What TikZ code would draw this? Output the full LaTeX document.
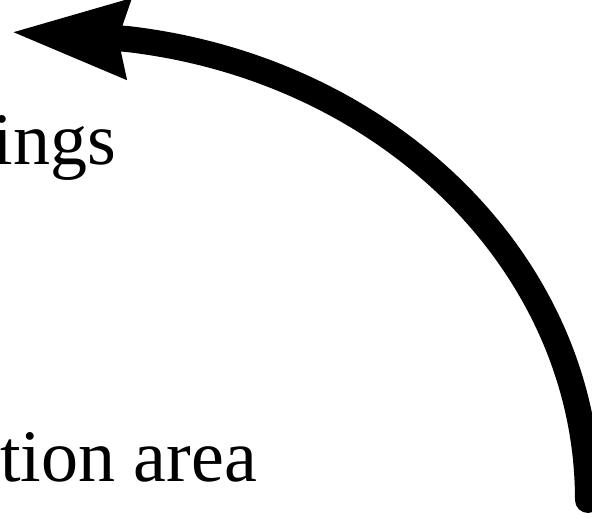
\documentclass[tikz,border=0pt]{standalone}
\usepackage{fontspec}
\setmainfont{Liberation Serif}
\usetikzlibrary{arrows.meta}
\tikzset{
  ktext/.style={anchor=base east, inner sep=0pt, font=\fontsize{74}{80}\selectfont},
  flow/.style={-{Stealth[length=115pt, width=74pt, inset=7pt]}, line width=26pt, line cap=round},
}

\begin{document}
\begin{tikzpicture}[x=1pt, y=1pt]
    \useasboundingbox (0,0) rectangle (592,517);
    \clip (0,0) rectangle (592,517);
    \node[ktext] (top) at (116,352) {ings};
    \node[ktext] (bottom) at (257,35) {tion area};
    \coordinate (start) at (588,17);
    \coordinate (tip) at (10,485);
    \draw[flow] (start) arc[start angle=0, end angle=82.6, x radius=530pt, y radius=465pt] -- (tip);
  \end{tikzpicture}
\end{document}
